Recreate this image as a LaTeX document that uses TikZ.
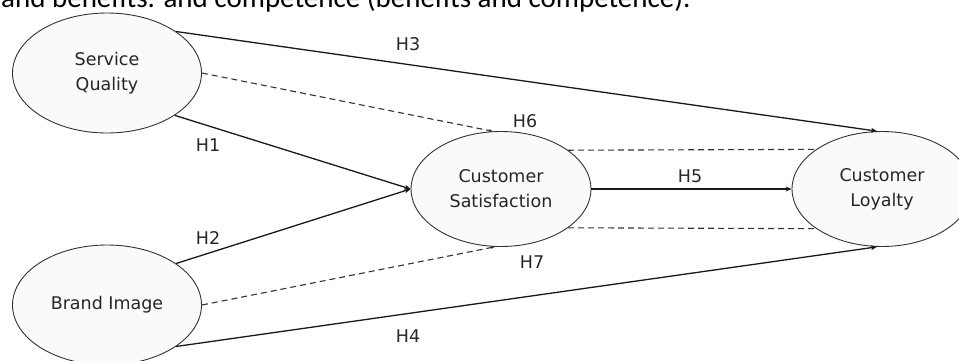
\documentclass[tikz,border=0pt]{standalone}
\usepackage{fontspec}
\setmainfont{DejaVu Sans}
\newfontfamily\bodyfont{Carlito}
\usetikzlibrary{shapes.geometric, arrows.meta}
\tikzset{
construct/.style={ellipse, draw=black!80, line width=0.9pt, fill=black!2, text=black!85, inner sep=0pt, align=center, font=\fontsize{17.5}{25}\selectfont}, % the latent variables
hyp/.style={text=black!85, inner sep=0pt, font=\fontsize{17.5}{21}\selectfont}, % hypothesis labels
direct/.style={-{Stealth[length=6pt,width=5pt]}, line width=1.3pt, draw=black!90}, % direct effects
medi/.style={dash pattern=on 6pt off 4pt, line width=1.1pt, draw=black!80}, % mediated effects
}

\begin{document}
\begin{tikzpicture}[x=1pt, y=-1pt]
    \useasboundingbox (0,0) rectangle (959,360);
    \clip (0,0) rectangle (959,360);
    \node[anchor=base west, inner sep=0pt, font=\bodyfont\fontsize{29}{35}\selectfont] (caption) at (1,7) {and benefits. and competence (benefits and competence).};
    \node[construct, minimum width=189pt, minimum height=120pt] (sq) at (107,73) {Service\\Quality};
    \node[construct, minimum width=189pt, minimum height=120pt] (bi) at (107,305) {Brand Image};
    \node[construct, minimum width=180pt, minimum height=115pt] (cs) at (501,189) {Customer\\Satisfaction};
    \node[construct, minimum width=180pt, minimum height=115pt] (cl) at (882,189) {Customer\\Loyalty};
    \draw[direct] (sq.31) -- (cl.95);
    \draw[direct] (sq.-32) -- (cs.west);
    \draw[direct] (bi.31) -- (cs.west);
    \draw[direct] (bi.-31) -- (cl.265);
    \draw[direct] (cs.east) -- (cl.west);
    \draw[medi, -{Stealth[length=4pt,width=3pt]}] (sq.east) -- (cs.98);
    \draw[medi, -{Stealth[length=4pt,width=3pt]}] (bi.east) -- (cs.264);
    \draw[medi] (cs.30.6) -- (cl.149.4);
    \draw[medi] (cs.-30.6) -- (cl.-149.4);
    \node[hyp] (h1) at (208,145) {H1};
    \node[hyp] (h2) at (208,238) {H2};
    \node[hyp] (h3) at (408,44) {H3};
    \node[hyp] (h4) at (408,336) {H4};
    \node[hyp] (h5) at (690,176) {H5};
    \node[hyp] (h6) at (525,121) {H6};
    \node[hyp] (h7) at (532,262) {H7};
\end{tikzpicture}
\end{document}
